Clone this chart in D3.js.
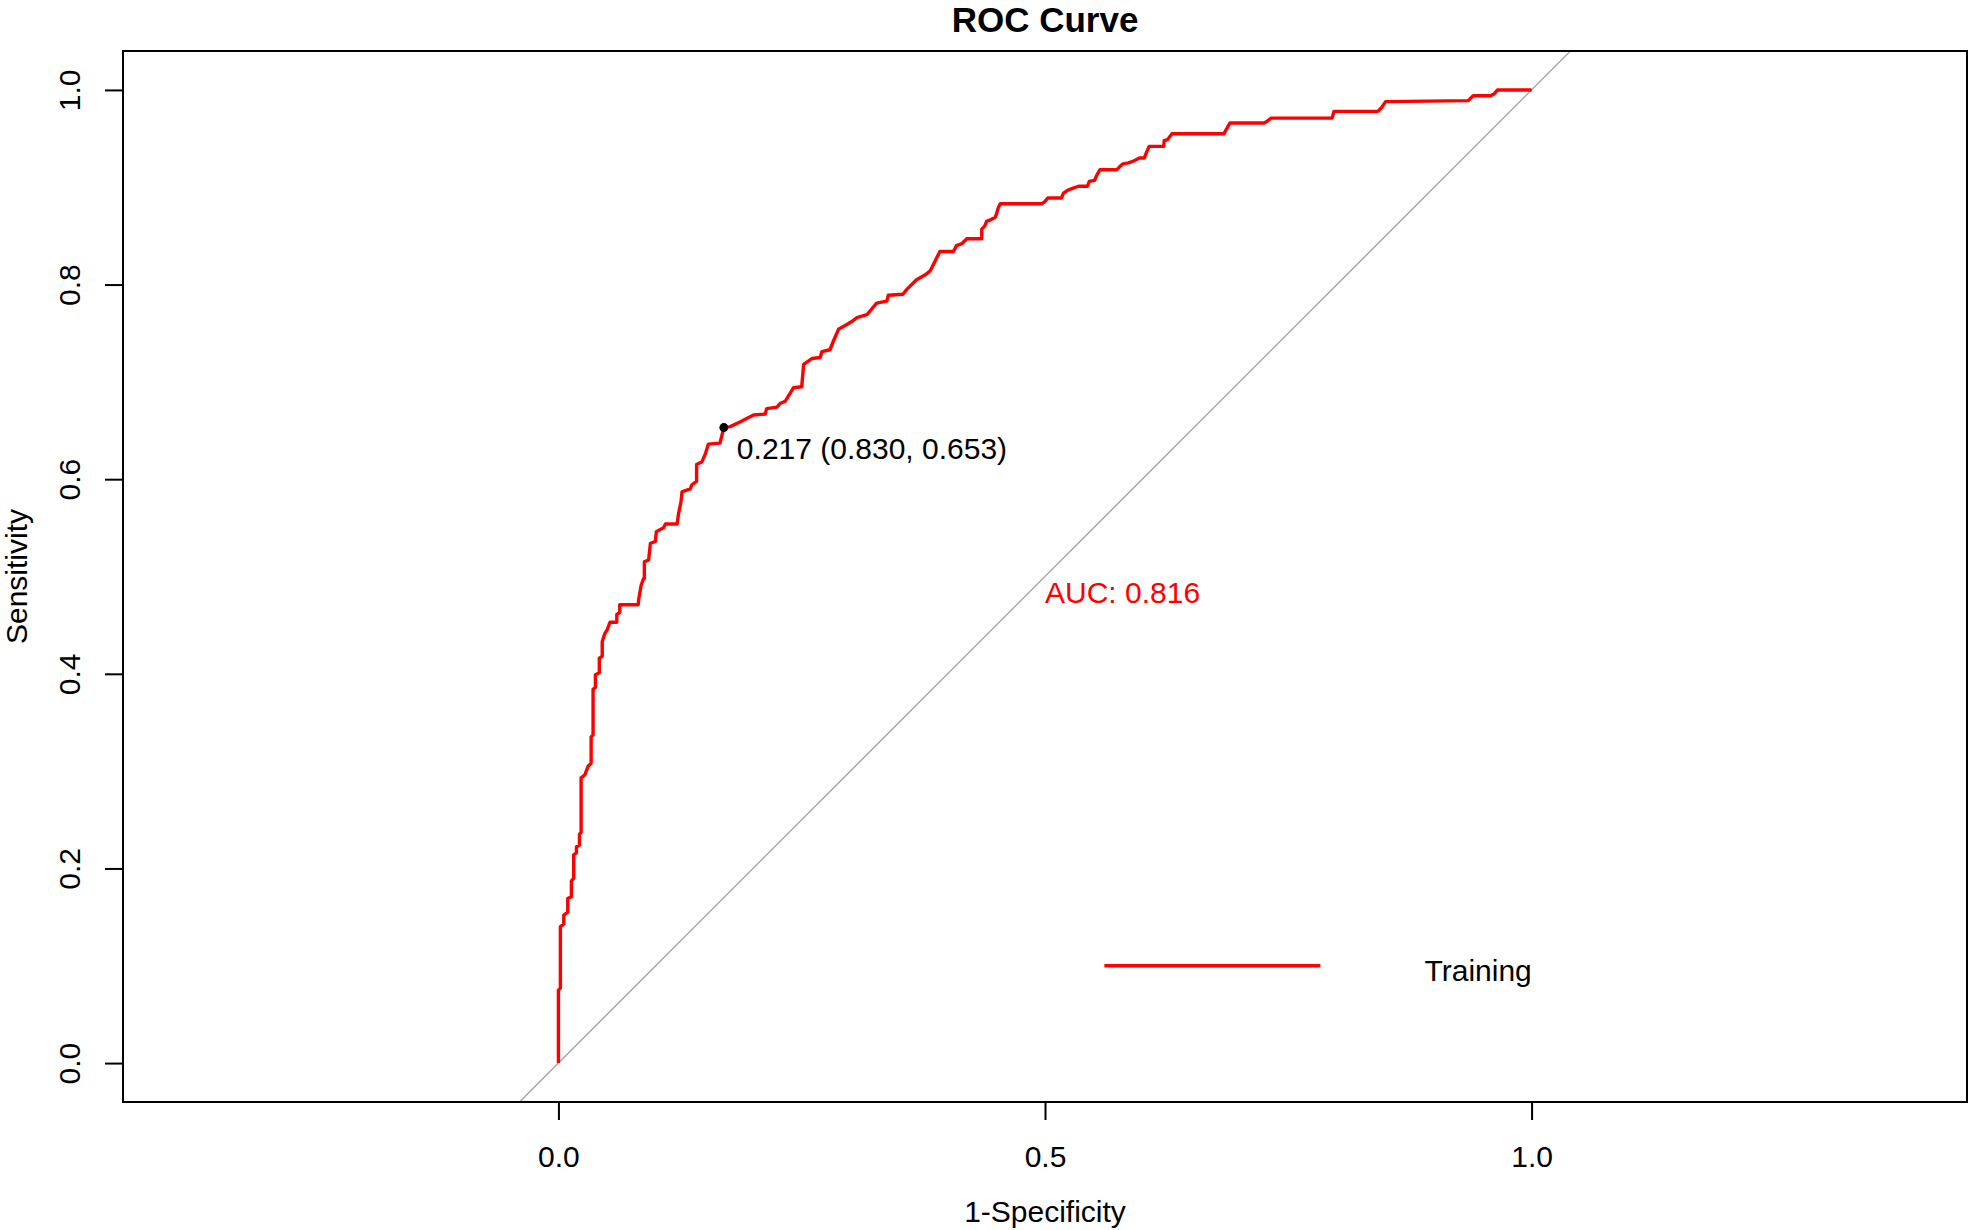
<!DOCTYPE html>
<html>
<head>
<meta charset="utf-8">
<script src="https://cdn.jsdelivr.net/npm/d3@7"></script>
<style>
  html, body { margin: 0; padding: 0; background: #fff; }
  svg { display: block; }
  text { font-family: "Liberation Sans", Arial, sans-serif; }
</style>
</head>
<body>
<svg id="chart" width="1969" height="1230"></svg>
<script>
// ---- data ----
const fpr = [0,0,0.002,0.002,0.0055,0.0055,0.0096,0.0096,0.0133,0.0133,0.0157,0.0157,0.0185,0.0185,0.0216,0.0216,0.0233,0.0233,0.027,0.0305,0.0336,0.0336,0.0356,0.0356,0.038,0.038,0.042,0.042,0.045,0.045,0.0475,0.050,0.053,0.060,0.060,0.063,0.063,0.082,
  0.0824,0.085,0.0876,0.0883,0.0883,0.0927,0.0945,0.0996,0.1006,0.108,0.110,0.122,0.1235,0.126,0.127,0.1355,0.137,0.142,0.142,
  0.1475,0.151,0.154,0.166,0.170,0.1766,0.187,0.2005,0.2125,0.214,0.2245,0.228,0.233,0.2416,0.250,0.252,0.2605,0.269,0.2707,0.279,0.2826,0.2878,0.2964,0.3015,0.3067,0.317,0.327,0.3375,0.339,0.354,0.358,0.368,0.377,0.382,0.387,0.392,0.406,0.409,0.4145,0.4196,0.435,0.435,0.438,0.440,0.445,0.4487,0.450,0.452,0.454,0.4966,0.4996,0.503,0.517,0.519,0.5235,0.529,0.5345,0.5436,0.5455,0.551,0.553,0.5565,0.574,0.5766,0.580,0.5858,0.591,0.597,0.602,0.604,0.607,0.622,0.6225,0.626,0.6305,0.684,0.6855,0.690,0.725,0.727,0.7324,0.795,0.797,0.842,0.846,0.850,0.935,0.940,0.958,0.9616,0.965,1.0];
const tpr = [0,0.075,0.077,0.140,0.143,0.152,0.155,0.169,0.171,0.187,0.190,0.214,0.216,0.222,0.224,0.235,0.237,0.293,0.296,0.305,0.308,0.335,0.337,0.384,0.386,0.399,0.401,0.416,0.418,0.433,0.441,0.445,0.453,0.453,0.461,0.463,0.471,0.471,
  0.476,0.491,0.498,0.498,0.515,0.517,0.534,0.536,0.546,0.550,0.554,0.554,0.565,0.577,0.587,0.590,0.594,0.598,0.615,
  0.618,0.626,0.636,0.637,0.653,0.654,0.659,0.666,0.667,0.6725,0.674,0.678,0.680,0.694,0.695,0.718,0.724,0.725,0.731,0.733,0.742,0.754,0.759,0.762,0.766,0.769,0.781,0.783,0.789,0.790,0.795,0.805,0.810,0.814,0.824,0.834,0.834,0.840,0.842,0.847,0.847,0.857,0.860,0.865,0.867,0.869,0.872,0.879,0.883,0.883,0.885,0.889,0.889,0.894,0.897,0.899,0.901,0.901,0.906,0.907,0.912,0.918,0.918,0.921,0.924,0.925,0.927,0.930,0.930,0.935,0.942,0.942,0.948,0.949,0.955,0.955,0.958,0.966,0.966,0.967,0.971,0.971,0.978,0.978,0.982,0.988,0.989,0.994,0.994,0.996,1.0,1.0];
const xTicks = [0, 0.5, 1.0];
const xTickLabels = ["0.0", "0.5", "1.0"];
const yTicks = [0, 0.2, 0.4, 0.6, 0.8, 1.0];
const yTickLabels = ["0.0", "0.2", "0.4", "0.6", "0.8", "1.0"];
const bestPoint = { fpr: 0.170, tpr: 0.653, label: "0.217 (0.830, 0.653)" };
const aucLabel = "AUC: 0.816";
const seriesName = "Training";
const titleText = "ROC Curve";
const xLabel = "1-Specificity";
const yLabel = "Sensitivity";

// ---- layout ----
const box = { left: 123, right: 1967, top: 51, bottom: 1102 };
const ext = 0.04;
const unit = (box.bottom - box.top) / (1 + 2 * ext);       // px per data unit (asp = 1)
const halfW = (box.right - box.left) / 2 / unit;

const x = d3.scaleLinear().domain([0.5 - halfW, 0.5 + halfW]).range([box.left, box.right]);
const y = d3.scaleLinear().domain([-ext, 1 + ext]).range([box.bottom, box.top]);

const svg = d3.select("#chart");
const FS = 30;

svg.append("defs").append("clipPath").attr("id", "clip")
  .append("rect").attr("x", box.left).attr("y", box.top)
  .attr("width", box.right - box.left).attr("height", box.bottom - box.top);

// diagonal (identity line)
const dom = y.domain();
svg.append("line")
  .attr("clip-path", "url(#clip)")
  .attr("x1", x(dom[0])).attr("y1", y(dom[0]))
  .attr("x2", x(dom[1])).attr("y2", y(dom[1]))
  .attr("stroke", "#a9a9a9").attr("stroke-width", 1.5);

// ROC curve
const pts = fpr.map((f, i) => [f, tpr[i]]);
svg.append("path")
  .datum(pts)
  .attr("clip-path", "url(#clip)")
  .attr("fill", "none")
  .attr("stroke", "#ff0000")
  .attr("stroke-width", 3.4)
  .attr("stroke-linejoin", "round")
  .attr("d", d3.line().x(d => x(d[0])).y(d => y(d[1])));

// best threshold point
svg.append("circle")
  .attr("cx", x(bestPoint.fpr)).attr("cy", y(bestPoint.tpr))
  .attr("r", 4.5).attr("fill", "#000");
svg.append("text")
  .attr("x", x(bestPoint.fpr) + 13).attr("y", y(bestPoint.tpr) + 31)
  .attr("font-size", FS).attr("fill", "#000")
  .text(bestPoint.label);

// AUC
svg.append("text")
  .attr("x", x(0.5)).attr("y", y(0.5) + 26)
  .attr("font-size", FS).attr("fill", "#ff0000")
  .text(aucLabel);

// legend
svg.append("line")
  .attr("x1", x(0.561)).attr("x2", x(0.783))
  .attr("y1", y(0.1)).attr("y2", y(0.1))
  .attr("stroke", "#ff0000").attr("stroke-width", 3.4);
svg.append("text")
  .attr("x", x(0.89)).attr("y", y(0.1) + 15)
  .attr("font-size", FS).attr("fill", "#000")
  .text(seriesName);

// box
svg.append("rect")
  .attr("x", box.left).attr("y", box.top)
  .attr("width", box.right - box.left).attr("height", box.bottom - box.top)
  .attr("fill", "none").attr("stroke", "#000").attr("stroke-width", 2);

// x axis
const xAxis = d3.axisBottom(x).tickValues(xTicks)
  .tickFormat((d, i) => xTickLabels[i]).tickSize(18).tickPadding(26);
const gx = svg.append("g").attr("transform", `translate(0,${box.bottom})`).call(xAxis);
gx.select(".domain").attr("d", `M${x(xTicks[0])},0H${x(xTicks[xTicks.length - 1])}`)
  .attr("stroke", "#000").attr("stroke-width", 2);
gx.selectAll(".tick line").attr("stroke", "#000").attr("stroke-width", 2);
gx.selectAll(".tick text").attr("font-size", FS).attr("fill", "#000")
  .attr("font-family", "Liberation Sans, Arial, sans-serif");

// y axis
const yAxis = d3.axisLeft(y).tickValues(yTicks)
  .tickFormat((d, i) => yTickLabels[i]).tickSize(18).tickPadding(0);
const gy = svg.append("g").attr("transform", `translate(${box.left},0)`).call(yAxis);
gy.select(".domain").attr("d", `M0,${y(yTicks[0])}V${y(yTicks[yTicks.length - 1])}`)
  .attr("stroke", "#000").attr("stroke-width", 2);
gy.selectAll(".tick line").attr("stroke", "#000").attr("stroke-width", 2);
gy.selectAll(".tick text")
  .attr("font-size", FS).attr("fill", "#000")
  .attr("font-family", "Liberation Sans, Arial, sans-serif")
  .attr("x", null).attr("dy", null)
  .attr("text-anchor", "middle")
  .attr("transform", "translate(-43,0) rotate(-90)");

// title
svg.append("text")
  .attr("x", (box.left + box.right) / 2).attr("y", 32)
  .attr("text-anchor", "middle").attr("font-size", 35).attr("font-weight", "bold")
  .text(titleText);

// axis titles
svg.append("text")
  .attr("x", (box.left + box.right) / 2).attr("y", 1222)
  .attr("text-anchor", "middle").attr("font-size", FS)
  .text(xLabel);
svg.append("text")
  .attr("transform", `translate(27,${(box.top + box.bottom) / 2}) rotate(-90)`)
  .attr("text-anchor", "middle").attr("font-size", FS)
  .text(yLabel);
</script>
</body>
</html>
